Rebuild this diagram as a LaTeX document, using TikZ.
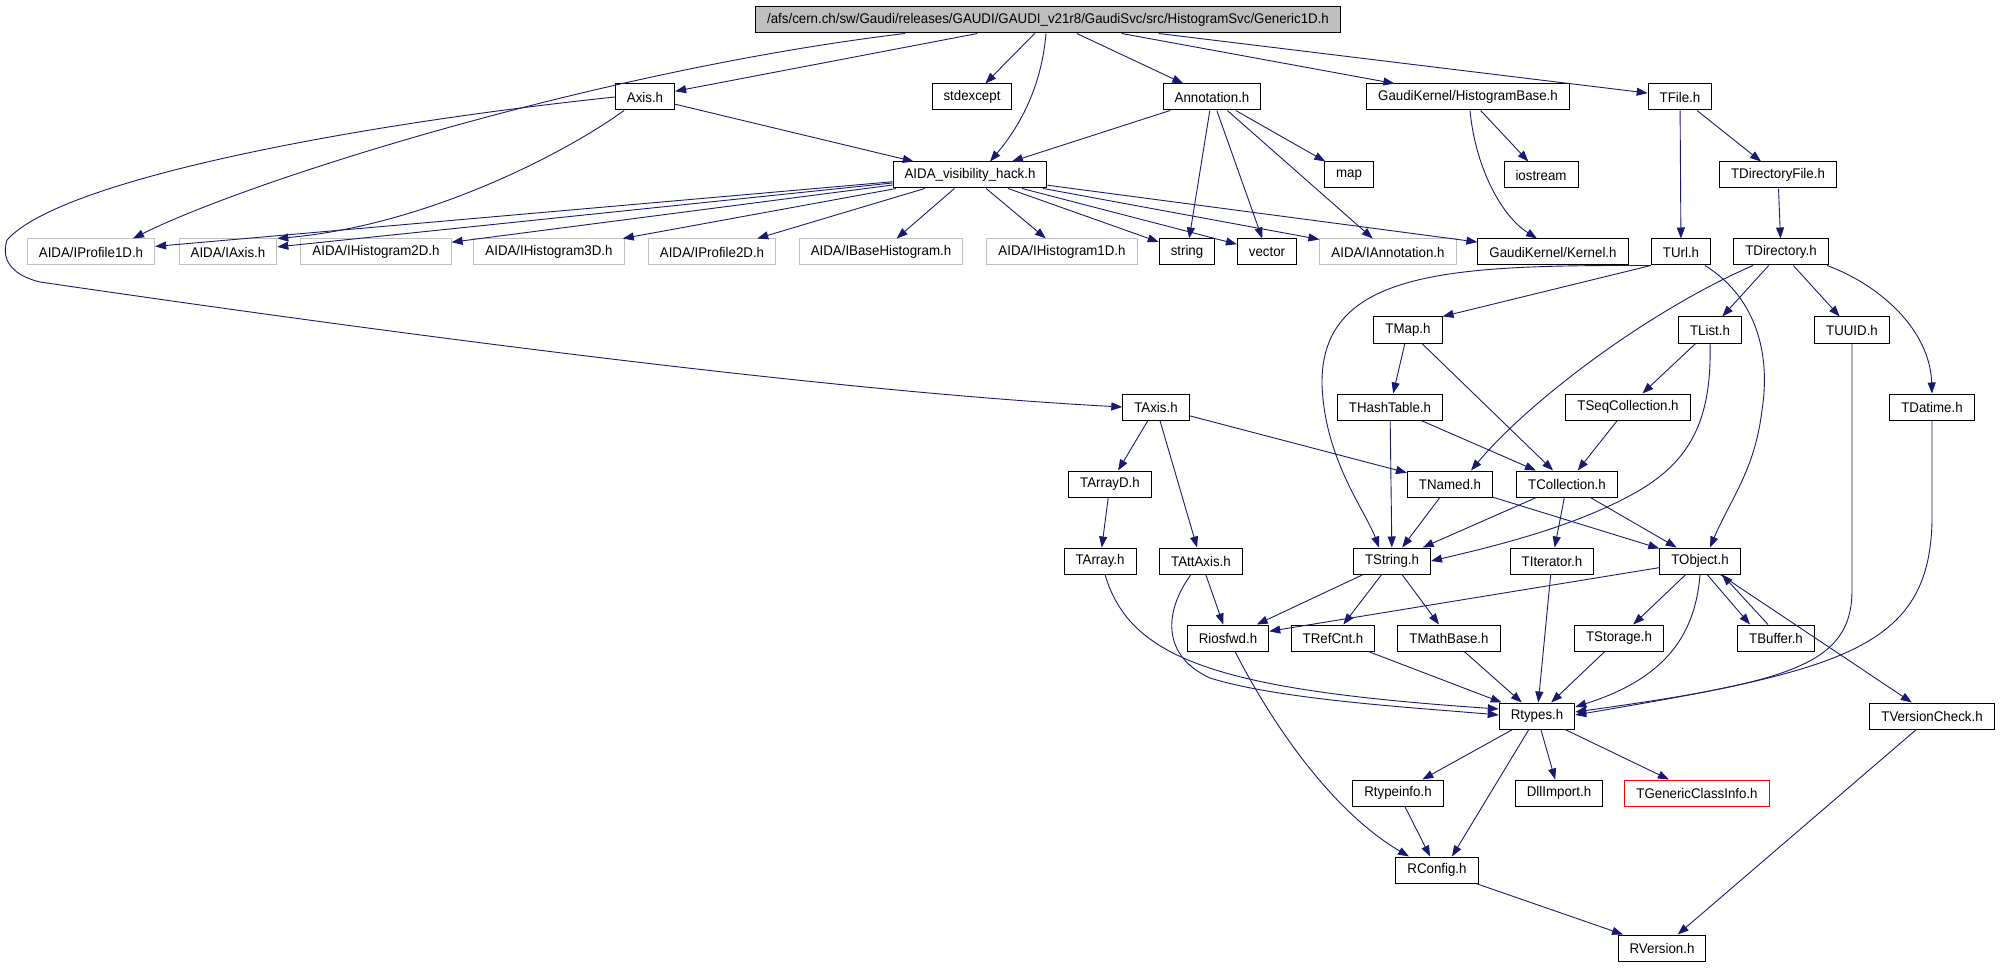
\documentclass[tikz,border=0pt]{standalone}
\usepackage{fontspec}
\setmainfont{Liberation Sans}[FakeStretch=0.95]
\usetikzlibrary{arrows.meta}
\definecolor{edgeblue}{RGB}{25,25,112}
\definecolor{boxgray}{RGB}{191,191,191}

\begin{document}
\begin{tikzpicture}[
    x=1pt, y=-1pt,
    >={Triangle[length=11pt,width=8pt]},
    header/.style={rectangle, draw, line width=1pt, minimum height=26pt, inner xsep=11.5pt, inner ysep=0pt, font=\fontsize{14}{16}\selectfont},
    ghost/.style={header, draw=boxgray},
    broken/.style={header, draw=red},
    root/.style={header, fill=boxgray},
    link/.style={->, edgeblue, line width=0.9pt}
]
    \fill[white] (0,0) rectangle (2000,968);
    \useasboundingbox (0,0) rectangle (2000,968);

    % Root file
    \node[root] (top) at (1048,20) {/afs/cern.ch/sw/Gaudi/releases/GAUDI/GAUDI\_v21r8/GaudiSvc/src/HistogramSvc/Generic1D.h};

    % Direct includes
    \node[header] (axis) at (645,97) {Axis.h};
    \node[header] (stdexcept) at (972,97) {stdexcept};
    \node[header] (annot) at (1212,97) {Annotation.h};
    \node[header] (hbase) at (1468,97) {GaudiKernel/HistogramBase.h};
    \node[header] (tfile) at (1680,97) {TFile.h};

    \node[header] (vis) at (970,175) {AIDA\_visibility\_hack.h};
    \node[header] (map) at (1349,175) {map};
    \node[header] (iostream) at (1541,175) {iostream};
    \node[header] (tdirfile) at (1778,175) {TDirectoryFile.h};

    % AIDA interfaces and kernel
    \node[ghost] (iprof1d) at (91,252) {AIDA/IProfile1D.h};
    \node[ghost] (iaxis) at (228,252) {AIDA/IAxis.h};
    \node[ghost] (ihist2d) at (376,252) {AIDA/IHistogram2D.h};
    \node[ghost] (ihist3d) at (549,252) {AIDA/IHistogram3D.h};
    \node[ghost] (iprof2d) at (712,252) {AIDA/IProfile2D.h};
    \node[ghost] (ibasehist) at (881,252) {AIDA/IBaseHistogram.h};
    \node[ghost] (ihist1d) at (1062,252) {AIDA/IHistogram1D.h};
    \node[header] (string) at (1187,252) {string};
    \node[header] (vector) at (1267,252) {vector};
    \node[ghost] (iannot) at (1388,252) {AIDA/IAnnotation.h};
    \node[header] (kernel) at (1553,252) {GaudiKernel/Kernel.h};
    \node[header] (turl) at (1681,252) {TUrl.h};
    \node[header] (tdir) at (1781,252) {TDirectory.h};

    % ROOT headers
    \node[header] (tmap) at (1408,330) {TMap.h};
    \node[header] (tlist) at (1710,330) {TList.h};
    \node[header] (tuuid) at (1852,330) {TUUID.h};

    \node[header] (taxis) at (1156,407) {TAxis.h};
    \node[header] (thash) at (1390,407) {THashTable.h};
    \node[header] (tseqcoll) at (1628,407) {TSeqCollection.h};
    \node[header] (tdatime) at (1932,407) {TDatime.h};

    \node[header] (tarrayd) at (1110,484) {TArrayD.h};
    \node[header] (tnamed) at (1450,484) {TNamed.h};
    \node[header] (tcoll) at (1567,484) {TCollection.h};

    \node[header] (tarray) at (1100,561) {TArray.h};
    \node[header] (tattaxis) at (1201,561) {TAttAxis.h};
    \node[header] (tstring) at (1392,561) {TString.h};
    \node[header] (titer) at (1552,561) {TIterator.h};
    \node[header] (tobject) at (1700,561) {TObject.h};

    \node[header] (riosfwd) at (1228,638) {Riosfwd.h};
    \node[header] (trefcnt) at (1333,638) {TRefCnt.h};
    \node[header] (tmathbase) at (1449,638) {TMathBase.h};
    \node[header] (tstorage) at (1619,638) {TStorage.h};
    \node[header] (tbuffer) at (1776,638) {TBuffer.h};

    \node[header] (rtypes) at (1537,716) {Rtypes.h};
    \node[header] (tvcheck) at (1932,716) {TVersionCheck.h};

    \node[header] (rtypeinfo) at (1398,793) {Rtypeinfo.h};
    \node[header] (dllimport) at (1559,793) {DllImport.h};
    \node[broken] (tgeneric) at (1697,793) {TGenericClassInfo.h};

    \node[header] (rconfig) at (1437,870) {RConfig.h};
    \node[header] (rversion) at (1662,948) {RVersion.h};

    % Includes of the root file
    \draw[link] (top) -- (axis);
    \draw[link] ([xshift=-143pt]top.south) .. controls (600,70) and (250,180) .. ([xshift=42pt]iprof1d.north);
    \draw[link] (top) -- (stdexcept);
    \draw[link] ([xshift=-2pt]top.south) .. controls (1042,80) and (1025,120) .. ([xshift=20pt]vis.north);
    \draw[link] (top) -- (annot);
    \draw[link] (top) -- (hbase);
    \draw[link] (top) -- (tfile);

    % Axis.h
    \draw[link] (axis) -- (vis);
    \draw[link] ([xshift=-21pt]axis.south) .. controls (570,150) and (430,225) .. (iaxis.north east);
    \draw[link] (axis.west) .. controls (350,125) and (60,180) .. (7,240)
        .. controls (0,262) and (15,276) .. (40,282)
        .. controls (300,320) and (800,390) .. (taxis.west);

    % Annotation.h
    \draw[link] (annot) -- (vis);
    \draw[link] (annot) -- (string);
    \draw[link] (annot) -- (vector);
    \draw[link] (annot) -- (map);
    \draw[link] (annot) -- (iannot);

    % AIDA_visibility_hack.h
    \foreach \dest in {iprof1d, iaxis, ihist2d, ihist3d, iprof2d, ibasehist, ihist1d, string, vector, iannot, kernel}
        \draw[link] (vis) -- (\dest);

    % HistogramBase.h
    \draw[link] (hbase) -- (iostream);
    \draw[link] ([xshift=2pt]hbase.south) .. controls (1475,165) and (1500,215) .. ([xshift=-16pt]kernel.north);

    % TFile.h and TDirectory.h
    \draw[link] (tfile) -- (turl);
    \draw[link] (tfile) -- (tdirfile);
    \draw[link] (tdirfile) -- (tdir);
    \draw[link] (tdir) -- (tlist);
    \draw[link] (tdir) -- (tuuid);
    \draw[link] ([xshift=-28pt]tdir.south) .. controls (1650,310) and (1530,400) .. ([xshift=21pt]tnamed.north);
    \draw[link] ([xshift=46pt]tdir.south) .. controls (1880,285) and (1930,330) .. (tdatime.north);

    % TUrl.h
    \draw[link] (turl.south west) -- (tmap.north east);
    \draw[link] (turl.south west) .. controls (1450,265) and (1320,270) .. (1322,385)
        .. controls (1325,460) and (1365,510) .. ([xshift=-13pt]tstring.north);
    \draw[link] ([xshift=24pt]turl.south) .. controls (1760,300) and (1770,360) .. (1762,410)
        .. controls (1755,470) and (1730,500) .. ([xshift=10pt]tobject.north);

    % Collections
    \draw[link] (tmap) -- (thash);
    \draw[link] (tmap) -- (tcoll);
    \draw[link] (thash) -- (tcoll);
    \draw[link] (thash) -- (tstring);
    \draw[link] (tlist) -- (tseqcoll);
    \draw[link] (tlist.south) .. controls (1712,420) and (1690,460) .. (1640,490)
        .. controls (1580,525) and (1500,545) .. (tstring.east);
    \draw[link] (tseqcoll) -- (tcoll);
    \draw[link] (tcoll) -- (tstring);
    \draw[link] (tcoll) -- (titer);
    \draw[link] (tcoll) -- (tobject);

    % TAxis.h
    \draw[link] (taxis) -- (tarrayd);
    \draw[link] (taxis) -- (tattaxis);
    \draw[link] (taxis) -- (tnamed);
    \draw[link] (tarrayd) -- (tarray);
    \draw[link] (tnamed) -- (tstring);
    \draw[link] (tnamed) -- (tobject);

    % TString.h and TObject.h
    \draw[link] (tattaxis) -- (riosfwd);
    \draw[link] (tstring) -- (riosfwd);
    \draw[link] (tstring) -- (trefcnt);
    \draw[link] (tstring) -- (tmathbase);
    \draw[link] (tobject) -- (riosfwd);
    \draw[link] (tobject) -- (tstorage);
    \draw[link] ([xshift=7pt]tobject.south) -- ([xshift=-26pt]tbuffer.north);
    \draw[link] ([xshift=-8pt]tbuffer.north) -- ([xshift=22pt]tobject.south);
    \draw[link] (tobject) -- (tvcheck);

    % Into Rtypes.h
    \draw[link] ([xshift=5pt]tarray.south) .. controls (1130,660) and (1220,690) .. ([yshift=7pt]rtypes.west);
    \draw[link] ([xshift=-10pt]tattaxis.south) .. controls (1165,610) and (1160,655) .. (1210,678)
        .. controls (1280,700) and (1420,708) .. ([yshift=1pt]rtypes.west);
    \draw[link] (trefcnt) -- (rtypes);
    \draw[link] (tmathbase) -- (rtypes);
    \draw[link] (titer) -- (rtypes);
    \draw[link] (tstorage) -- (rtypes);
    \draw[link] (tobject.south) .. controls (1695,640) and (1660,680) .. ([yshift=9pt]rtypes.east);
    \draw[link] (tuuid.south) -- (1852,590) .. controls (1852,665) and (1790,682) .. ([yshift=4pt]rtypes.east);
    \draw[link] (tdatime.south) -- (1932,520) .. controls (1930,650) and (1840,670) .. ([yshift=1pt]rtypes.east);

    % Rtypes.h and below
    \draw[link] (rtypes) -- (rtypeinfo);
    \draw[link] (rtypes) -- ([xshift=15pt]rconfig.north);
    \draw[link] (rtypes) -- (dllimport);
    \draw[link] (rtypes) -- (tgeneric);
    \draw[link] (rtypeinfo) -- (rconfig);
    \draw[link] ([xshift=7pt]riosfwd.south) .. controls (1270,720) and (1330,810) .. ([xshift=-28pt]rconfig.north);
    \draw[link] (rconfig) -- (rversion);
    \draw[link] (tvcheck) -- (rversion);
\end{tikzpicture}
\end{document}
